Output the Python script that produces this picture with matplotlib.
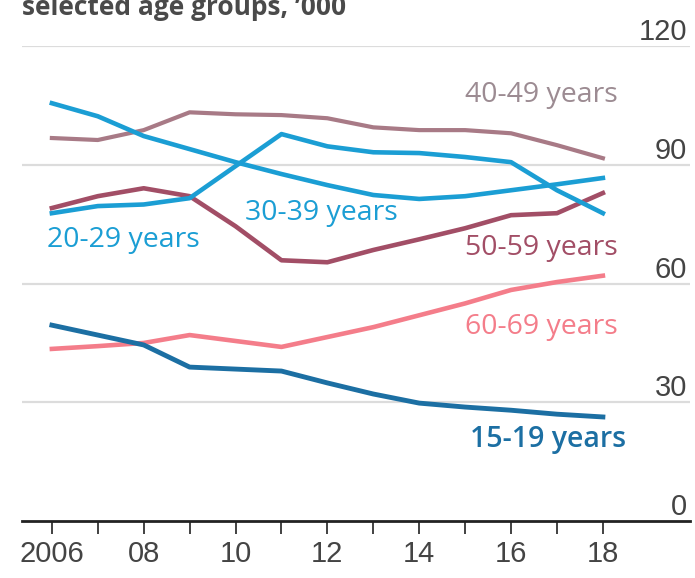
import matplotlib.pyplot as plt

years = list(range(2006, 2019))

age_15_19 = [49.5, 47, 44.5, 38.9, 38.4, 37.9, 34.9, 32.1, 29.8, 28.8, 28, 27, 26.3]
age_20_29 = [77.8, 79.6, 80, 81.6, 89.7, 97.8, 94.7, 93.2, 93, 92, 90.7, 83.6, 77.8]
age_30_39 = [105.6, 102.3, 97.3, 94, 90.7, 87.7, 84.9, 82.4, 81.4, 82.1, 83.6, 85.1, 86.7]
age_40_49 = [96.8, 96.3, 98.8, 103.3, 102.8, 102.6, 101.8, 99.5, 98.8, 98.8, 98, 95, 91.7]
age_50_59 = [79.1, 82.1, 84.1, 82.1, 74.5, 65.9, 65.4, 68.5, 71.2, 74, 77.3, 77.8, 82.9]
age_60_69 = [43.5, 44.2, 45, 47, 45.5, 44, 46.5, 49, 52, 55, 58.4, 60.4, 62]

series_names = ["15-19 years", "20-29 years", "30-39 years",
                "40-49 years", "50-59 years", "60-69 years"]

light_blue = "#1b9ed4"
dark_blue = "#1c6fa3"
mauve = "#a24e66"
grey_mauve = "#a87a86"
pink = "#f47d8a"

fig = plt.figure(figsize=(6.95, 5.78), dpi=100)
ax = fig.add_axes([0.0317, 0.0986, 0.9613, 0.8214])

num_font = ["Liberation Sans", "DejaVu Sans"]
lab_font = ["Open Sans", "DejaVu Sans"]

# gridlines
for v in [30, 60, 90, 120]:
    ax.axhline(v, color="#dcdcdc", lw=1.6, zorder=0)

ax.plot(years, age_40_49, color=grey_mauve, lw=3.0, zorder=2)
ax.plot(years, age_50_59, color=mauve, lw=3.3, zorder=3)
ax.plot(years, age_20_29, color=light_blue, lw=3.3, zorder=4)
ax.plot(years, age_30_39, color=light_blue, lw=3.3, zorder=4)
ax.plot(years, age_60_69, color=pink, lw=3.3, zorder=3)
ax.plot(years, age_15_19, color=dark_blue, lw=3.5, zorder=5)

# line labels
fs = 20.5
ax.text(2015.0, 107.6, series_names[3], color="#9c8b92", fontsize=fs, va="center", family=lab_font)
ax.text(2010.2, 77.8, series_names[2], color=light_blue, fontsize=fs, va="center", family=lab_font)
ax.text(2005.9, 71, series_names[1], color=light_blue, fontsize=fs, va="center", family=lab_font)
ax.text(2015.0, 69, series_names[4], color=mauve, fontsize=fs, va="center", family=lab_font)
ax.text(2015.0, 49, series_names[5], color=pink, fontsize=fs, va="center", family=lab_font)
ax.text(2015.1, 20.5, series_names[0], color=dark_blue, fontsize=fs, va="center",
        weight="semibold", family=lab_font)

ax.set_xlim(2005.35, 2019.9)
ax.set_ylim(0, 120)

for s in ["top", "left", "right"]:
    ax.spines[s].set_visible(False)
ax.spines["bottom"].set_linewidth(2)
ax.spines["bottom"].set_color("#222222")

ax.set_xticks(years)
ax.set_xticklabels(["2006" if y == 2006 else ("%02d" % (y % 100) if y % 2 == 0 else "") for y in years],
                   family=num_font, fontsize=21, color="#444444")
ax.tick_params(axis="x", length=9, width=1.3, color="#333333", pad=5)

ax.yaxis.tick_right()
ax.set_yticks([0, 30, 60, 90, 120])
ax.tick_params(axis="y", length=0, pad=-2)
for lab in ax.get_yticklabels():
    lab.set_horizontalalignment("right")
    lab.set_verticalalignment("bottom")
    lab.set_fontfamily(num_font)
    lab.set_fontsize(21)
    lab.set_color("#444444")

fig.text(22 / 695, 1 - 15 / 578, "selected age groups, \u2019000", fontsize=19, weight="bold",
         color="#4a4a4a", va="baseline", family=lab_font)

fig.savefig("out.png", dpi=100)
